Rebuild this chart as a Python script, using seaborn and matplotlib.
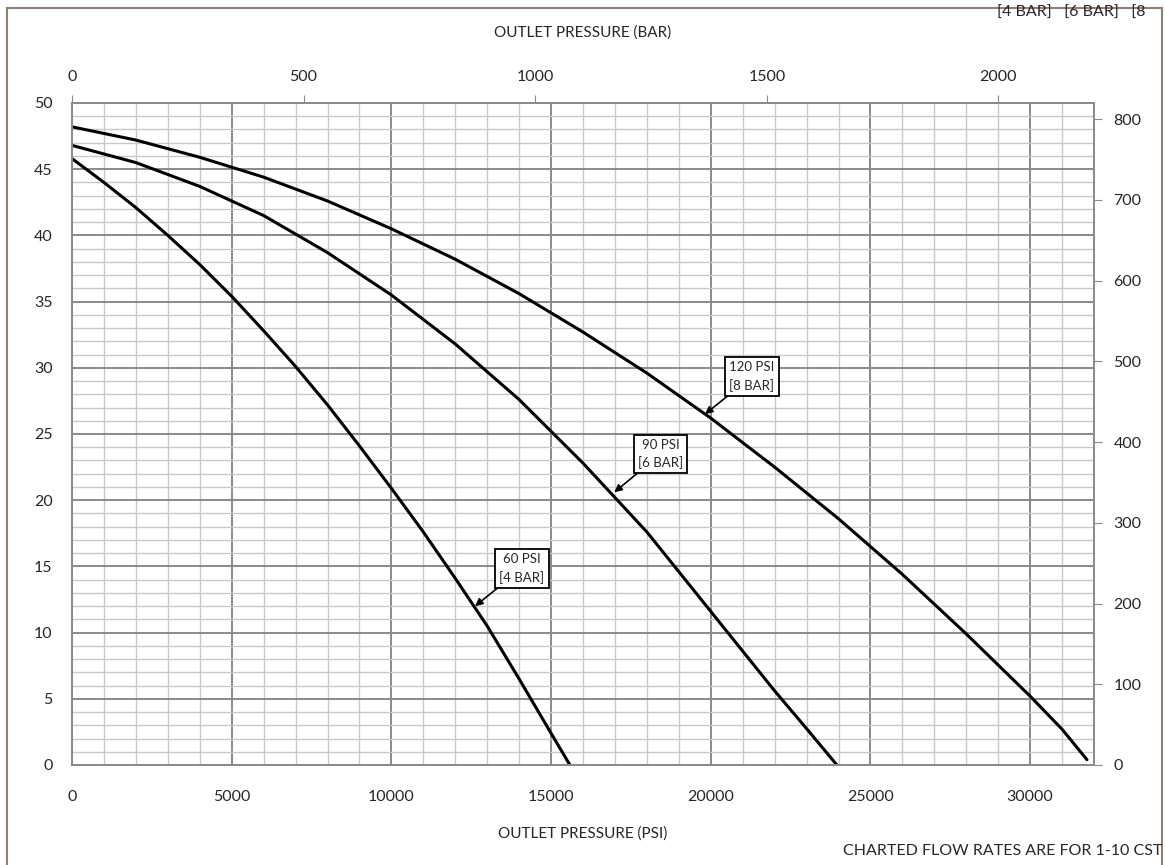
import numpy as np
import pandas as pd
import matplotlib.pyplot as plt
import seaborn as sns
from matplotlib.patches import Rectangle

# curve data (x = outlet pressure psi, y = flow)
psi_60 = [0, 1000, 2000, 3000, 4000, 5000, 6000, 7000, 8000, 9000, 10000, 11000, 12000, 13000, 14000, 15000, 15590]
flow_60 = [45.8, 44.0, 42.1, 40.0, 37.8, 35.4, 32.8, 30.1, 27.2, 24.1, 20.9, 17.6, 14.1, 10.5, 6.5, 2.4, 0.0]

psi_90 = [0, 2000, 4000, 6000, 8000, 10000, 12000, 14000, 16000, 18000, 20000, 21000, 22000, 23000, 23950]
flow_90 = [46.8, 45.5, 43.7, 41.5, 38.7, 35.5, 31.8, 27.6, 22.8, 17.6, 11.6, 8.6, 5.6, 2.75, 0.0]

psi_120 = [0, 2000, 4000, 6000, 8000, 10000, 12000, 14000, 16000, 18000, 20000, 22000, 24000, 26000, 28000, 30000, 31000, 31780]
flow_120 = [48.2, 47.2, 45.9, 44.4, 42.6, 40.5, 38.2, 35.6, 32.7, 29.6, 26.2, 22.5, 18.6, 14.4, 9.9, 5.2, 2.7, 0.4]

series_names = ["60 PSI\n[4 BAR]", "90 PSI\n[6 BAR]", "120 PSI\n[8 BAR]"]
label_targets = [(12620, 12.0), (16980, 20.6), (19820, 26.5)]
label_boxes = [(14090, 14.85), (18440, 23.5), (21290, 29.35)]

PSI_PER_BAR = 14.5038
RIGHT_FACTOR = 16.4

df = pd.concat([
    pd.DataFrame({"psi": psi_60, "flow": flow_60, "curve": series_names[0]}),
    pd.DataFrame({"psi": psi_90, "flow": flow_90, "curve": series_names[1]}),
    pd.DataFrame({"psi": psi_120, "flow": flow_120, "curve": series_names[2]}),
])

sns.set_style("white")
plt.rcParams['font.family'] = ['Lato', 'DejaVu Sans']

fig = plt.figure(figsize=(11.65, 8.65), dpi=100)
ax = fig.add_axes([72 / 1165, 1 - 765 / 865, (1094 - 72) / 1165, (765 - 103) / 865])

sns.lineplot(data=df, x="psi", y="flow", units="curve", estimator=None, sort=False,
             color="black", linewidth=2.2, ax=ax)

ax.set_xlim(0, 32000)
ax.set_ylim(0, 50)
ax.set_xticks(np.arange(0, 32001, 5000))
ax.set_xticks(np.arange(0, 32001, 1000), minor=True)
ax.set_yticks(np.arange(0, 51, 5))
ax.set_yticks(np.arange(0, 51, 1), minor=True)
ax.grid(which="minor", color="#c8c8c8", linewidth=1.0)
ax.grid(which="major", color="#8a8a8a", linewidth=1.4)
ax.set_axisbelow(True)
for s in ax.spines.values():
    s.set_color("#8a8a8a")
    s.set_linewidth(1.4)
ax.tick_params(which="both", length=0, labelsize=11.5)
ax.tick_params(axis="x", pad=18)
ax.tick_params(axis="y", pad=14)
ax.set_xlabel("OUTLET PRESSURE (PSI)", fontsize=11, labelpad=16)
ax.set_ylabel("")

top = ax.secondary_xaxis("top", functions=(lambda x: x / PSI_PER_BAR, lambda b: b * PSI_PER_BAR))
top.set_xticks([0, 500, 1000, 1500, 2000])
top.tick_params(length=6, color="#8a8a8a", labelsize=11.5, pad=8)
top.spines["top"].set_visible(False)
top.set_xlabel("OUTLET PRESSURE (BAR)", fontsize=11, labelpad=24)

right = ax.secondary_yaxis("right", functions=(lambda y: y * RIGHT_FACTOR, lambda v: v / RIGHT_FACTOR))
right.set_yticks(np.arange(0, 801, 100))
right.tick_params(length=6, color="#8a8a8a", labelsize=11.5, pad=8)
right.spines["right"].set_visible(False)

for name, tgt, box in zip(series_names, label_targets, label_boxes):
    ax.annotate(name, xy=tgt, xytext=box, ha="center", va="center", fontsize=9.5,
                linespacing=1.5,
                bbox=dict(boxstyle="square,pad=0.3", fc="white", ec="black", lw=1.3),
                arrowprops=dict(arrowstyle="-|>", color="black", lw=1.2, mutation_scale=11,
                                shrinkA=0, shrinkB=0))

fig.text(843 / 1165, 1 - 851 / 865, "CHARTED FLOW RATES ARE FOR 1-10 CST",
         fontsize=11.5, ha="left", va="center")
fig.text(997 / 1165, 1 - 13 / 865, "[4 BAR]   [6 BAR]   [8",
         fontsize=11.5, ha="left", va="center")

fig.patches.append(Rectangle((7 / 1165, -0.05), (1162 - 7) / 1165, 1.05 - 8 / 865,
                             transform=fig.transFigure, fill=False, ec="#8c8175", lw=1.5))

fig.savefig("out.png", dpi=100)
